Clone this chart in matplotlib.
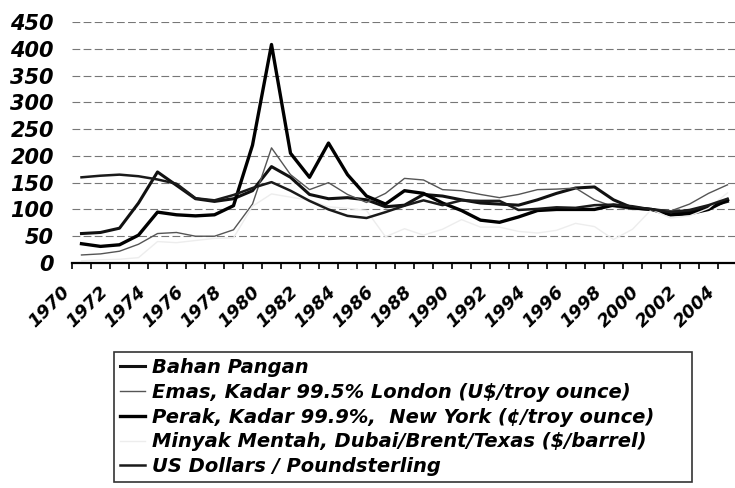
import numpy as np
import matplotlib
matplotlib.use("Agg")
from matplotlib import pyplot as plt
from matplotlib import transforms

years = list(range(1970, 2005))

bahan_pangan = [55, 57, 65, 112, 170, 145, 120, 115, 120, 135, 180, 160, 128, 120, 122, 118,
                105, 108, 128, 125, 118, 112, 110, 108, 118, 130, 140, 142, 118, 103,
                100, 96, 95, 105, 115]
emas = [15, 17, 22, 35, 55, 57, 50, 50, 62, 110, 215, 165, 137, 150, 128, 113,
        130, 158, 155, 137, 135, 128, 122, 128, 137, 138, 140, 118, 105, 100,
        100, 97, 110, 130, 146]
perak = [36, 31, 34, 52, 95, 90, 88, 90, 107, 220, 408, 205, 160, 224, 165, 125,
         110, 135, 130, 112, 98, 80, 76, 86, 98, 100, 100, 100, 108, 103,
         100, 90, 92, 100, 118]
minyak = [4, 6, 7, 10, 40, 38, 42, 46, 47, 106, 129, 123, 117, 105, 102, 98,
          49, 64, 52, 63, 81, 67, 67, 59, 56, 61, 74, 68, 44, 63,
          100, 84, 88, 102, 131]
usd_gbp = [160, 163, 165, 162, 156, 148, 121, 117, 127, 140, 151, 135, 116, 100, 88, 84,
           95, 107, 117, 108, 117, 116, 116, 99, 101, 104, 103, 108, 109, 106,
           100, 95, 99, 108, 120]

labels = ['Bahan Pangan',
          'Emas, Kadar 99.5% London (U$/troy ounce)',
          'Perak, Kadar 99.9%,  New York (¢/troy ounce)',
          'Minyak Mentah, Dubai/Brent/Texas ($/barrel)',
          'US Dollars / Poundsterling']
y_ticks = [0, 50, 100, 150, 200, 250, 300, 350, 400, 450]

plt.rcParams['font.family'] = ['DejaVu Sans']

fig = plt.figure(figsize=(7.35, 4.88), dpi=100)
ax = fig.add_axes([72 / 735, 1 - 263 / 488, 665 / 735, 241 / 488])

x = np.arange(len(years))
lines = []
lines += ax.plot(x, bahan_pangan, color='#111111', lw=2.2, label=labels[0])
lines += ax.plot(x, emas, color='#555555', lw=1.0, label=labels[1])
lines += ax.plot(x, perak, color='#000000', lw=2.4, label=labels[2])
lines += ax.plot(x, minyak, color='#ededed', lw=1.0, label=labels[3])
lines += ax.plot(x, usd_gbp, color='#1a1a1a', lw=1.8, label=labels[4])

ax.set_xlim(-0.5, len(years) - 0.5)
ax.set_ylim(0, 450)

# horizontal dashed grid
for v in y_ticks[1:]:
    ax.axhline(v, color='#777777', lw=0.8, ls=(0, (7, 3)), zorder=0)

for side in ['left', 'right', 'top']:
    ax.spines[side].set_visible(False)
ax.spines['bottom'].set_linewidth(1.6)

ax.set_yticks(y_ticks)
ax.tick_params(axis='y', length=0, pad=13)
for t in ax.get_yticklabels():
    t.set_fontsize(15)
    t.set_fontweight('bold')
    t.set_fontstyle('italic')

# category boundaries get tick marks, labels every second year
ax.set_xticks(np.arange(-0.5, len(years), 1), minor=True)
ax.tick_params(axis='x', which='minor', length=4, width=1.2, direction='out')
ax.set_xticks(x[::2])
ax.set_xticklabels([str(y) for y in years[::2]], rotation=45, ha='right', va='top')
ax.tick_params(axis='x', which='major', length=0, pad=14)
offset = transforms.ScaledTranslation(-8 / 100, 0, fig.dpi_scale_trans)
for t in ax.get_xticklabels():
    t.set_fontsize(13)
    t.set_fontweight('bold')
    t.set_fontstyle('italic')
    t.set_transform(t.get_transform() + offset)

leg = fig.legend(handles=lines, labels=labels, loc='upper left', mode='expand',
                 bbox_to_anchor=(114 / 735, 1 - 357 / 488, 578 / 735, 0.01), frameon=True,
                 fancybox=False, edgecolor='black', handlelength=1.3,
                 handletextpad=0.35, borderpad=0.3, labelspacing=0.3,
                 borderaxespad=0,
                 prop={'size': 14, 'weight': 'bold', 'style': 'italic'})
leg.get_frame().set_linewidth(1.2)

fig.savefig('out.png', dpi=100)
